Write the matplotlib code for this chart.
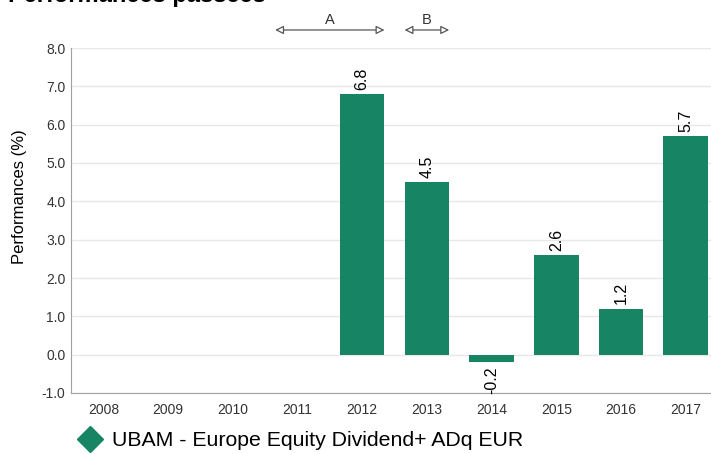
import matplotlib.pyplot as plt
from matplotlib.lines import Line2D

plt.rcParams['font.family'] = ['Liberation Sans', 'DejaVu Sans']

# données
years = ['2008', '2009', '2010', '2011', '2012', '2013', '2014', '2015', '2016', '2017']
perf = [None, None, None, None, 6.8, 4.5, -0.2, 2.6, 1.2, 5.7]
fund_name = 'UBAM - Europe Equity Dividend+ ADq EUR'
periods = [('A', '2011', '2012'), ('B', '2013', '2013')]

green = '#178563'
bw = 0.69

fig = plt.figure(figsize=(7.11, 4.54), dpi=100)
ax = fig.add_axes([71 / 711, 61 / 454, 647 / 711, 345 / 454])

xs = [i for i, v in enumerate(perf) if v is not None]
vals = [v for v in perf if v is not None]
ax.bar(xs, vals, width=bw, color=green, zorder=3)

for x, v in zip(xs, vals):
    if v >= 0:
        ax.annotate(f'{v:.1f}', (x, v), xytext=(0, 3), textcoords='offset points',
                    rotation=90, ha='center', va='bottom', fontsize=11.5, color='black')
    else:
        ax.annotate(f'{v:.1f}', (x, v), xytext=(0, -3), textcoords='offset points',
                    rotation=90, ha='center', va='top', fontsize=11.5, color='black')

ax.set_xlim(-0.5, len(years) - 0.5)
ax.set_ylim(-1, 8)
ax.set_xticks(range(len(years)))
ax.set_xticklabels(years)
ax.set_yticks(range(-1, 9))
ax.set_yticklabels([f'{t:.1f}' for t in range(-1, 9)])
ax.tick_params(axis='x', length=0, labelsize=10, colors='#333333', pad=7)
ax.tick_params(axis='y', length=0, labelsize=10, colors='#333333', pad=4)
ax.grid(axis='y', color='#e8e8e8', lw=1, zorder=0)
for s in ['top', 'right']:
    ax.spines[s].set_visible(False)
for s in ['left', 'bottom']:
    ax.spines[s].set_color('#a0a0a0')
ax.set_ylabel('Performances (%)', fontsize=12, color='black', labelpad=8)
ax.yaxis.set_label_coords(-0.068, 0.57)

# flèches des périodes
for lab, y0, y1 in periods:
    i0 = years.index(y0) - bw / 2
    i1 = years.index(y1) + bw / 2
    ax.annotate('', xy=(i0, 8.47), xytext=(i1, 8.47), xycoords='data',
                arrowprops=dict(arrowstyle='<|-|>,head_length=0.5,head_width=0.25',
                                fc='white', ec='#555555', lw=0.9, shrinkA=0, shrinkB=0),
                annotation_clip=False)
    ax.text((i0 + i1) / 2, 8.55, lab, ha='center', va='bottom', fontsize=10.5,
            color='#333333', clip_on=False)

fig.text(8 / 711, 1 - 2 / 454, 'Performances passées', fontsize=17, fontweight='bold',
         ha='left', va='baseline')

handle = Line2D([], [], marker='D', color=green, ls='none', markersize=13)
fig.legend([handle], [fund_name], loc='center left', bbox_to_anchor=(67 / 711, 1 - 441 / 454),
           frameon=False, fontsize=15.3, handletextpad=0.43, borderpad=0, handlelength=1.2)

fig.savefig('out.png', dpi=100)
